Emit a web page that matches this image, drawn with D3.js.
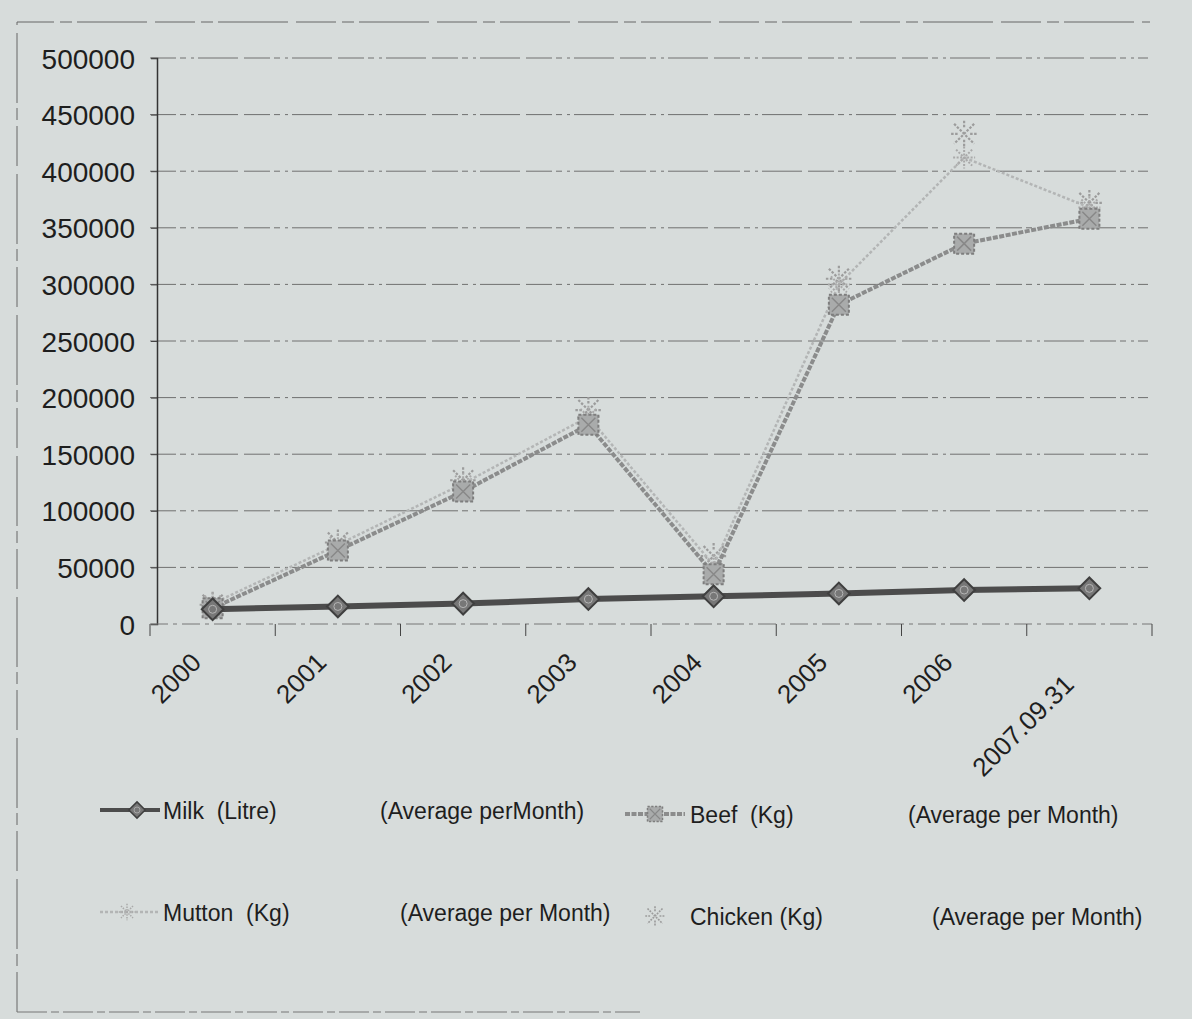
<!DOCTYPE html>
<html>
<head>
<meta charset="utf-8">
<script src="https://cdn.jsdelivr.net/npm/d3@7"></script>
<style>
  body { margin: 0; background: #d7dcdb; }
  svg text { font-family: Arial, "Liberation Sans", sans-serif; fill: #1e1e1e; white-space: pre; }
</style>
</head>
<body>
<script>
//categories and series
var years = ["2000", "2001", "2002", "2003", "2004", "2005", "2006", "2007.09.31"];
var milk    = [13000, 15500, 18000, 22000, 24500, 27000, 30000, 31500];
var beef    = [14000, 65000, 117000, 176000, 44000, 282000, 336000, 358000];
var mutton  = [18000, 70000, 124000, 183000, 52000, 300000, 412000, 368000];
var chicken = [17000, 72000, 127000, 189000, 60000, 305000, 433000, 372000];
var yTicks = [0, 50000, 100000, 150000, 200000, 250000, 300000, 350000, 400000, 450000, 500000];

var width = 1192, height = 1019;

var svg = d3.select("body").append("svg")
    .attr("width", width)
    .attr("height", height);

//page frame (edge of the scanned sheet)
svg.append("path")
    .attr("d", "M17,1012 L17,22 L1150,22")
    .attr("fill", "none")
    .attr("stroke", "#666")
    .attr("stroke-width", 1)
    .attr("stroke-dasharray", "40 6 12 5 70 8");
svg.append("line")
    .attr("x1", 17).attr("x2", 640).attr("y1", 1012).attr("y2", 1012)
    .attr("stroke", "#777").attr("stroke-dasharray", "30 4 8 4");

var x = d3.scaleBand()
    .domain(years)
    .range([150, 1152]);

var y = d3.scaleLinear()
    .domain([0, 500000])
    .range([624, 58]);

//gridlines
svg.selectAll(".grid")
    .data(yTicks.slice(1))
    .enter()
    .append("line")
    .attr("class", "grid")
    .attr("x1", 150).attr("x2", 1148)
    .attr("y1", function(d){ return y(d); })
    .attr("y2", function(d){ return y(d); })
    .attr("stroke", "#707070")
    .attr("stroke-width", 1)
    .attr("stroke-dasharray", "26 4 6 5 3 4 40 6");

//y axis
var yAxis = svg.append("g")
    .attr("transform", "translate(157,0)")
    .call(d3.axisLeft(y).tickValues(yTicks).tickSize(6).tickPadding(16).tickFormat(d3.format("d")));
yAxis.select(".domain").attr("stroke", "#333").attr("stroke-width", 1.5);
yAxis.selectAll(".tick line").attr("stroke", "#444");
yAxis.selectAll("text")
    .attr("font-size", 28)
    .attr("dy", "0.36em")
    .style("font-family", "Arial, 'Liberation Sans', sans-serif")
    .attr("fill", "#1e1e1e");

//x axis
var xAxis = svg.append("g")
    .attr("transform", "translate(0,624)");
xAxis.append("line")
    .attr("x1", 150).attr("x2", 1152)
    .attr("stroke", "#777").attr("stroke-dasharray", "18 5 4 5");
xAxis.selectAll(".xtick")
    .data(years.concat(["end"]))
    .enter()
    .append("line")
    .attr("class", "xtick")
    .attr("x1", function(d, i){ return 150 + i * x.step(); })
    .attr("x2", function(d, i){ return 150 + i * x.step(); })
    .attr("y1", 0).attr("y2", 12)
    .attr("stroke", "#444");
xAxis.selectAll(".xlab")
    .data(years)
    .enter()
    .append("text")
    .attr("class", "xlab")
    .attr("font-size", 26)
    .attr("text-anchor", "end")
    .attr("transform", function(d){
        var cx = x(d) + x.bandwidth() / 2;
        var long = d.length > 4;
        return "translate(" + (cx + (long ? -14 : -10)) + "," + (long ? 62 : 40) + ") rotate(-45)";
    })
    .text(function(d){ return d; });

var line = d3.line()
    .x(function(d, i){ return x(years[i]) + x.bandwidth() / 2; })
    .y(function(d){ return y(d); });

//marker shapes
function diamond(g){
    g.append("path")
        .attr("d", d3.symbol().type(d3.symbolDiamond2).size(300)())
        .attr("fill", "#777").attr("stroke", "#3f3f3f").attr("stroke-width", 2);
    g.append("circle").attr("r", 4).attr("fill", "none").attr("stroke", "#b5b5b5");
}
function square(g){
    g.append("rect").attr("x", -10).attr("y", -10).attr("width", 20).attr("height", 20)
        .attr("fill", "#a9abab").attr("stroke", "#7e7e7e").attr("stroke-width", 2)
        .attr("stroke-dasharray", "3 2");
    g.append("path").attr("d", "M-7,-7L7,7M7,-7L-7,7").attr("stroke", "#888").attr("stroke-width", 1.5);
}
function star(g){
    g.append("path")
        .attr("d", "M0,-11L0,11M-11,0L11,0M-8,-8L8,8M8,-8L-8,8")
        .attr("stroke", "#a9a9a9").attr("stroke-width", 2).attr("stroke-dasharray", "2 1.5");
}
function cross(g){
    g.append("path")
        .attr("d", "M-10,-10L10,10M10,-10L-10,10M0,-13L0,-6M0,6L0,13M-13,0L-6,0M6,0L13,0")
        .attr("stroke", "#9c9c9c").attr("stroke-width", 2.2).attr("stroke-dasharray", "2.5 1.5");
}

var series = [
    {name: "chicken", data: chicken, color: "none", w: 0, dash: null, marker: cross},
    {name: "mutton", data: mutton, color: "#b3b5b5", w: 2.5, dash: "3 2", marker: star},
    {name: "beef", data: beef, color: "#8b8c8c", w: 4, dash: "5 1.5", marker: square},
    {name: "milk", data: milk, color: "#4c4c4c", w: 6, dash: null, marker: diamond}
];

series.forEach(function(s){
    if (s.w > 0) {
        svg.append("path")
            .datum(s.data)
            .attr("class", "line " + s.name)
            .attr("d", line)
            .attr("fill", "none")
            .attr("stroke", s.color)
            .attr("stroke-width", s.w)
            .attr("stroke-dasharray", s.dash);
    }
    svg.selectAll(".pt." + s.name)
        .data(s.data)
        .enter()
        .append("g")
        .attr("class", "pt " + s.name)
        .attr("transform", function(d, i){
            return "translate(" + (x(years[i]) + x.bandwidth() / 2) + "," + y(d) + ")";
        })
        .each(function(){ s.marker(d3.select(this)); });
});

//legend
var legend = [
    {label: "Milk  (Litre)", note: "(Average perMonth)", lx: 100, mx: 137, tx: 163, nx: 380, ly: 810, s: series[3]},
    {label: "Beef  (Kg)", note: "(Average per Month)", lx: 625, mx: 655, tx: 690, nx: 908, ly: 814, s: series[2]},
    {label: "Mutton  (Kg)", note: "(Average per Month)", lx: 100, mx: 127, tx: 163, nx: 400, ly: 912, s: series[1]},
    {label: "Chicken (Kg)", note: "(Average per Month)", lx: 645, mx: 655, tx: 690, nx: 932, ly: 916, s: series[0]}
];

legend.forEach(function(l){
    var g = svg.append("g");
    if (l.s.w > 0) {
        g.append("line")
            .attr("x1", l.lx).attr("x2", l.lx + 60)
            .attr("y1", l.ly).attr("y2", l.ly)
            .attr("stroke", l.s.color)
            .attr("stroke-width", Math.min(l.s.w, 4))
            .attr("stroke-dasharray", l.s.dash);
    }
    var m = g.append("g").attr("transform", "translate(" + l.mx + "," + l.ly + ") scale(0.75)");
    l.s.marker(m);
    g.append("text").attr("x", l.tx).attr("y", l.ly + 9).attr("font-size", 23).text(l.label);
    g.append("text").attr("x", l.nx).attr("y", l.ly + 9).attr("font-size", 23).text(l.note);
});
</script>
</body>
</html>
